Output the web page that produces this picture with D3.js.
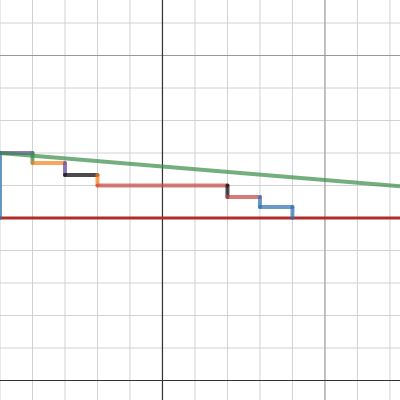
<!DOCTYPE html><html><head><script src="https://cdn.jsdelivr.net/npm/d3@7"></script>
<style>body{margin:0}</style></head><body><svg id="c" width="400" height="400"></svg><script>
const xMinor=d3.range(0,13,1), yMinor=d3.range(-6,7,1);
const majorX=[5,10], majorY=[5,-5];
const axisX=[5], axisY=[-5];
const segX1=[0,0,1,1,2,2,3,3,7,7,8,8,9];
const segY1=[0,2,2,1.69,1.69,1.32,1.32,1.0,1.0,0.65,0.65,0.34,0.34];
const segX2=[0,1,1,2,2,3,3,7,7,8,8,9,9];
const segY2=[2,2,1.69,1.69,1.32,1.32,1.0,1.0,0.65,0.65,0.34,0.34,0];
const segC=["#2d70b3","#6042a6","#388c46","#fa7e19","#6042a6","#000","#fa7e19","#c74440","#000","#c74440","#2d70b3","#2d70b3","#2d70b3"];
const greenLine=[[0,2],[12.31,0.98]];
const redLine=[[0,0],[12.31,0]];
const x=d3.scaleLinear().domain([0,12.31]).range([0,400]);
const y=d3.scaleLinear().domain([0,6.708]).range([218,0]);
const svg=d3.select("#c");
svg.append("rect").attr("width",400).attr("height",400).attr("fill","#fff");
const g=svg.append("g");
xMinor.forEach(v=>g.append("line").attr("x1",x(v)).attr("x2",x(v)).attr("y1",0).attr("y2",400).attr("stroke","#d2d2d2"));
yMinor.forEach(v=>g.append("line").attr("y1",y(v)).attr("y2",y(v)).attr("x1",0).attr("x2",400).attr("stroke","#d2d2d2"));
majorX.forEach(v=>g.append("line").attr("x1",x(v)).attr("x2",x(v)).attr("y1",0).attr("y2",400).attr("stroke","#999"));
majorY.forEach(v=>g.append("line").attr("y1",y(v)).attr("y2",y(v)).attr("x1",0).attr("x2",400).attr("stroke","#999"));
axisX.forEach(v=>g.append("line").attr("x1",x(v)).attr("x2",x(v)).attr("y1",0).attr("y2",400).attr("stroke","#333").attr("stroke-width",1.2));
axisY.forEach(v=>g.append("line").attr("y1",y(v)).attr("y2",y(v)).attr("x1",0).attr("x2",400).attr("stroke","#333").attr("stroke-width",1.2));
const L=d3.line().x(d=>x(d[0])).y(d=>y(d[1]));
svg.append("path").attr("d",L(redLine)).attr("stroke","#b02e2a").attr("stroke-width",3).attr("fill","none");
segX1.forEach((v,i)=>svg.append("line").attr("x1",x(v)).attr("y1",y(segY1[i])).attr("x2",x(segX2[i])).attr("y2",y(segY2[i]))
 .attr("stroke",segC[i]).attr("stroke-width",4).attr("stroke-linecap","round").attr("opacity",0.7));
svg.append("path").attr("d",L(greenLine)).attr("stroke","#388c46").attr("stroke-width",4).attr("fill","none").attr("opacity",0.7);
</script></body></html>
